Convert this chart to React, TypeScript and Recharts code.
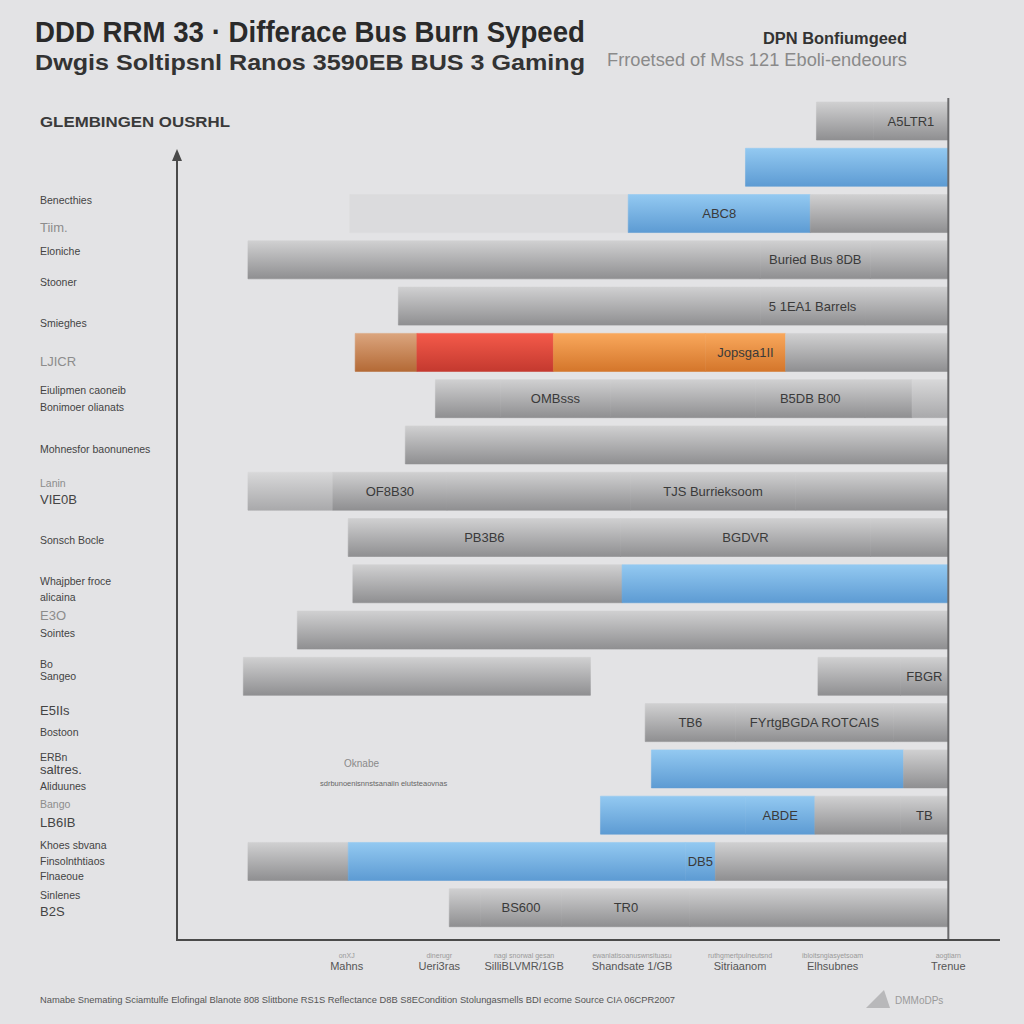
import React from 'react';
import {
  BarChart,
  Bar,
  XAxis,
  YAxis,
  Cell,
  LabelList,
  ReferenceLine
} from 'recharts';

// rows top -> bottom
const rowNames = [
  'r01', 'r02', 'r03', 'r04', 'r05', 'r06', 'r07', 'r08', 'r09',
  'r10', 'r11', 'r12', 'r13', 'r14', 'r15', 'r16', 'r17', 'r18'
];

// where each bar begins
const rowStarts = [82.9, 73.7, 22.4, 9.2, 28.7, 23.1, 33.5, 29.6, 9.2, 22.2, 22.8, 15.6, 8.6, 60.7, 61.5, 54.9, 9.2, 35.3];

// segments of each bar: [end value, tone, text]
type Seg = [number, string, string?];
const rowSegments: Seg[][] = [
  [[90.3, 'gray'], [100, 'gray', 'A5LTR1']],
  [[100, 'blue']],
  [[58.5, 'faint'], [82.1, 'blue', 'ABC8'], [100, 'gray']],
  [[75.6, 'gray'], [89.9, 'gray', 'Buried Bus 8DB'], [100, 'gray']],
  [[75.6, 'gray'], [89.2, 'gray', '5 1EA1 Barrels'], [100, 'gray']],
  [[31.1, 'brown'], [48.8, 'red'], [68.5, 'orange'], [78.9, 'orange', 'Jopsga1II'], [100, 'gray']],
  [[41.9, 'gray'], [56.2, 'gray', 'OMBsss'], [75.0, 'gray'], [89.2, 'gray', 'B5DB B00'], [95.3, 'gray'], [100, 'light']],
  [[100, 'gray']],
  [[20.2, 'light'], [35.0, 'gray', 'OF8B30'], [58.8, 'gray'], [80.2, 'gray', 'TJS Burrieksoom'], [100, 'gray']],
  [[57.5, 'gray', 'PB3B6'], [89.9, 'gray', 'BGDVR'], [100, 'gray']],
  [[57.7, 'gray'], [100, 'blue']],
  [[100, 'gray']],
  [[53.6, 'gray'], [83.1, 'none'], [93.8, 'gray'], [100, 'gray', 'FBGR']],
  [[72.4, 'gray', 'TB6'], [92.9, 'gray', 'FYrtgBGDA ROTCAIS'], [100, 'gray']],
  [[94.2, 'blue'], [100, 'gray']],
  [[73.7, 'blue'], [82.7, 'blue', 'ABDE'], [93.8, 'gray'], [100, 'gray', 'TB']],
  [[22.2, 'gray'], [65.9, 'blue'], [69.8, 'blue', 'DB5'], [100, 'gray']],
  [[39.3, 'gray'], [49.9, 'gray', 'BS600'], [66.5, 'gray', 'TR0'], [100, 'gray']]
];

const xTicks = [22, 34, 45, 59, 73, 85, 100];
const xTickTop = ['onXJ', 'dinerugr', 'nagi snorwal gesan', 'ewanlatisoanuswnsituasu', 'ruthgmertpulneutsnd', 'ibloitsngiasyetsoam', 'aogtiarn'];
const xTickBottom = ['Mahns', 'Ueri3ras', 'SilliBLVMR/1GB', 'Shandsate 1/GB', 'Sitriaanom', 'Elhsubnes', 'Trenue'];

const sideLabels = [
  'Benecthies', 'Tiim.', 'Eloniche', 'Stooner', 'Smieghes', 'LJICR',
  'Eiulipmen caoneib', 'Bonimoer olianats', 'Mohnesfor baonunenes', 'Lanin', 'VIE0B',
  'Sonsch Bocle', 'Whajpber froce', 'alicaina', 'E3O', 'Sointes', 'Bo', 'Sangeo',
  'E5IIs', 'Bostoon', 'ERBn', 'saltres.', 'Aliduunes', 'Bango', 'LB6IB',
  'Khoes sbvana', 'Finsolnthtiaos', 'Flnaeoue', 'Sinlenes', 'B2S'
];
// layout only: baseline of each side label
const sideLabelBaselines = [
  204, 232, 255, 286, 327, 366, 394, 411, 453, 487, 504, 544, 585, 601, 620, 637,
  668, 680, 715, 736, 761, 774, 790, 808, 827, 849, 865, 880, 899, 916
];
const faintSide = new Set(['Tiim.', 'LJICR', 'E3O', 'Bango', 'Lanin']);
const bigSide = new Set(['Tiim.', 'LJICR', 'VIE0B', 'E3O', 'saltres.', 'LB6IB', 'B2S', 'E5IIs']);

const tones: Record<string, string> = {
  gray: 'url(#gGray)',
  light: 'url(#gLight)',
  faint: '#dbdbdd',
  blue: 'url(#gBlue)',
  red: 'url(#gRed)',
  orange: 'url(#gOrange)',
  brown: 'url(#gBrown)',
  none: 'transparent'
};

const MAX_SEG = 7;

const table = rowNames.map((name, i) => {
  const row: Record<string, any> = { name, s0: rowStarts[i], t0: 'none', l0: '' };
  let prev = rowStarts[i];
  rowSegments[i].forEach(([end, tone, text], k) => {
    row[`s${k + 1}`] = +(end - prev).toFixed(2);
    row[`t${k + 1}`] = tone;
    row[`l${k + 1}`] = text || '';
    prev = end;
  });
  return row;
});

const font = '"Liberation Sans", Arial, sans-serif';

const XTick = (props: any) => {
  const { x, y, index } = props;
  return (
    <g>
      <text x={x} y={y + 10} textAnchor="middle" fontSize={7} fill="#9a9a9a" fontFamily={font}>
        {xTickTop[index]}
      </text>
      <text x={x} y={y + 22} textAnchor="middle" fontSize={11} fill="#555" fontFamily={font}>
        {xTickBottom[index]}
      </text>
    </g>
  );
};

export default function App() {
  return (
    <div style={{ position: 'absolute', left: 0, top: 0, width: 1024, height: 1024, background: '#e3e3e5', overflow: 'hidden' }}>
      <BarChart
        width={1024}
        height={1024}
        data={table}
        layout="vertical"
        margin={{ top: 98, right: 24, left: 177, bottom: 44 }}
      >
        <defs>
          <linearGradient id="gGray" x1="0" y1="0" x2="0" y2="1">
            <stop offset="0%" stopColor="#d0d0d1" />
            <stop offset="100%" stopColor="#8f8f91" />
          </linearGradient>
          <linearGradient id="gLight" x1="0" y1="0" x2="0" y2="1">
            <stop offset="0%" stopColor="#d8d8d9" />
            <stop offset="100%" stopColor="#a9a9ab" />
          </linearGradient>
          <linearGradient id="gBlue" x1="0" y1="0" x2="0" y2="1">
            <stop offset="0%" stopColor="#93c9f1" />
            <stop offset="100%" stopColor="#5d9bd3" />
          </linearGradient>
          <linearGradient id="gRed" x1="0" y1="0" x2="0" y2="1">
            <stop offset="0%" stopColor="#f45a4a" />
            <stop offset="100%" stopColor="#c4392f" />
          </linearGradient>
          <linearGradient id="gOrange" x1="0" y1="0" x2="0" y2="1">
            <stop offset="0%" stopColor="#f9a85c" />
            <stop offset="100%" stopColor="#d4762b" />
          </linearGradient>
          <linearGradient id="gBrown" x1="0" y1="0" x2="0" y2="1">
            <stop offset="0%" stopColor="#dba57e" />
            <stop offset="100%" stopColor="#b46a36" />
          </linearGradient>
        </defs>
        <XAxis
          type="number"
          domain={[0, 106.7]}
          ticks={xTicks}
          height={40}
          axisLine={{ stroke: '#4a4a4a', strokeWidth: 2 }}
          tickLine={false}
          tick={<XTick />}
          interval={0}
        />
        <YAxis type="category" dataKey="name" hide padding={{ top: 0, bottom: 9 }} />
        {Array.from({ length: MAX_SEG }, (_, k) => (
          <Bar key={k} dataKey={`s${k}`} stackId="a" barSize={38} isAnimationActive={false}>
            {table.map((r, i) => {
              const t = r[`t${k}`] || 'none';
              return (
                <Cell
                  key={i}
                  fill={tones[t]}
                  stroke={t === 'none' ? 'none' : tones[t]}
                  strokeWidth={0.6}
                />
              );
            })}
            {k > 0 && (
              <LabelList
                dataKey={`l${k}`}
                position="center"
                fill="#3a3a3a"
                fontSize={13}
                fontFamily={font}
              />
            )}
          </Bar>
        ))}
        <ReferenceLine x={100} stroke="#6a6a6c" strokeWidth={2} />
      </BarChart>

      <svg width={1024} height={1024} style={{ position: 'absolute', left: 0, top: 0, pointerEvents: 'none' }}>
        {/* titles */}
        <text x={35} y={42} fontSize={29} fontWeight="bold" fill="#2a2a2a" fontFamily={font} textLength={550} lengthAdjust="spacingAndGlyphs">
          DDD RRM 33 · Differace Bus Burn Sypeed
        </text>
        <text x={35} y={70} fontSize={22} fontWeight="bold" fill="#333" fontFamily={font} textLength={550} lengthAdjust="spacingAndGlyphs">
          Dwgis Soltipsnl Ranos 3590EB BUS 3 Gaming
        </text>
        <text x={763} y={44} fontSize={16} fontWeight="bold" fill="#333" fontFamily={font} textLength={144} lengthAdjust="spacingAndGlyphs">
          DPN Bonfiumgeed
        </text>
        <text x={607} y={66} fontSize={18} fill="#8a8a8a" fontFamily={font} textLength={300} lengthAdjust="spacingAndGlyphs">
          Frroetsed of Mss 121 Eboli-endeours
        </text>
        <text x={40} y={127} fontSize={15} fontWeight="bold" fill="#3a3a3a" fontFamily={font} textLength={190} lengthAdjust="spacingAndGlyphs">
          GLEMBINGEN OUSRHL
        </text>

        {/* side labels */}
        {sideLabels.map((s, i) => (
          <text
            key={i}
            x={40}
            y={sideLabelBaselines[i]}
            fontSize={bigSide.has(s) ? 13 : 10.5}
            fill={faintSide.has(s) ? '#8c8c8c' : '#444'}
            fontFamily={font}
          >
            {s}
          </text>
        ))}

        {/* y axis with arrow */}
        <line x1={177} y1={158} x2={177} y2={941} stroke="#4a4a4a" strokeWidth={2} />
        <polygon points="177,149 172,161 182,161" fill="#4a4a4a" />

        {/* small notes in the plot */}
        <text x={344} y={767} fontSize={10} fill="#8a8a8a" fontFamily={font}>Oknabe</text>
        <text x={320} y={786} fontSize={7.5} fill="#666" fontFamily={font}>sdrbunoenisnnstsanaiin elutsteaovnas</text>

        {/* footer */}
        <text x={40} y={1003} fontSize={9} fill="#555" fontFamily={font} textLength={635} lengthAdjust="spacingAndGlyphs">
          Namabe Snemating Sciamtulfe Elofingal Blanote 808 Slittbone RS1S Reflectance D8B S8ECondition Stolungasmells BDI ecome Source CIA 06CPR2007
        </text>
        <text x={895} y={1004} fontSize={10} fill="#9a9a9a" fontFamily={font}>DMMoDPs</text>
        <path d="M866 1008 L890 1008 L884 990 Z" fill="#b8b8ba" />
      </svg>
    </div>
  );
}
